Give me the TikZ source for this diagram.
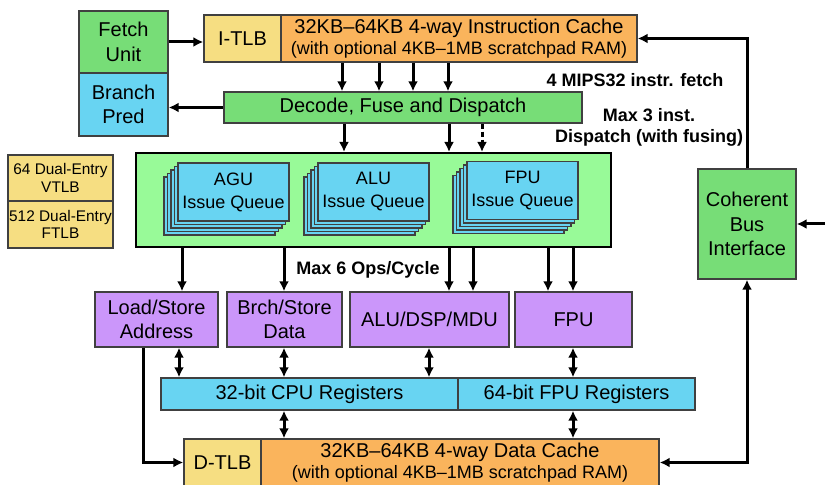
\documentclass[tikz,border=0pt]{standalone}
\usepackage{fontspec}
\setmainfont{Liberation Sans}
\usetikzlibrary{arrows.meta}
\definecolor{myfetch}{RGB}{119,221,119}
\definecolor{mypred}{RGB}{104,212,242}
\definecolor{mytlb}{RGB}{246,222,130}
\definecolor{mycache}{RGB}{250,180,92}
\definecolor{myissue}{RGB}{152,250,152}
\definecolor{myexec}{RGB}{203,150,250}
\definecolor{myedge}{RGB}{64,64,64}

\begin{document}
\begin{tikzpicture}[x=0.5pt,y=-0.5pt,
  blk/.style={draw=myedge,line width=0.7pt,inner sep=0pt,align=center,font=\fontsize{10}{12.2}\selectfont},
  qcard/.style={blk,fill=mypred,minimum width=55.5pt,minimum height=29pt,font=\fontsize{9}{11.5}\selectfont},
  arr/.style={line width=1.5pt,-{Latex[length=5pt,width=5pt]}},
  darr/.style={line width=1.5pt,{Latex[length=5pt,width=5pt]}-{Latex[length=5pt,width=5pt]}},
  lbl/.style={font=\fontsize{9}{10.5}\selectfont\bfseries,align=center}]
  \useasboundingbox (0,0) rectangle (825,485);
  \node[blk,fill=myfetch,minimum width=44.5pt,minimum height=31pt] (fetch) at (123.5,42) {Fetch\\Unit};
  \node[blk,fill=mypred,minimum width=44.5pt,minimum height=31.5pt] (bpred) at (123.5,104.5) {Branch\\Pred};
  \node[blk,fill=mytlb,minimum width=38.5pt,minimum height=23.5pt] (itlb) at (242.5,38.5) {I-TLB};
  \node[blk,fill=mycache,minimum width=178pt,minimum height=23.5pt,font=\fontsize{10}{10.5}\selectfont] (icache) at (459,38.5)
    {32KB–64KB 4-way Instruction Cache\\{\fontsize{9}{10.5}\selectfont(with optional 4KB–1MB scratchpad RAM)}};
  \node[blk,fill=myfetch,minimum width=179pt,minimum height=15.5pt] (decode) at (403,107.5) {Decode, Fuse and Dispatch};
  \node[draw=black,line width=1pt,fill=myissue,minimum width=237.5pt,minimum height=47pt,inner sep=0pt] (issue) at (373.5,200) {};
  \foreach \n/\x/\y/\t in {aguq/233.5/192/AGU,aluq/373.5/192/ALU,fpuq/522.5/190.5/FPU}{
    \foreach \k in {4,3,2,1}
      \node[qcard,xshift={-1.75pt*\k},yshift={-1.75pt*\k}] (\n\k) at (\x,\y) {};
    \node[qcard] (\n) at (\x,\y) {\t\\Issue Queue};
  }
  \node[blk,fill=mytlb,minimum width=52.5pt,minimum height=23pt,font=\fontsize{7.7}{8.6}\selectfont] (vtlb) at (60.5,178) {64 Dual-Entry\\VTLB};
  \node[blk,fill=mytlb,minimum width=52.5pt,minimum height=23.5pt,font=\fontsize{7.7}{8.6}\selectfont] (ftlb) at (60.5,224.5) {512 Dual-Entry\\FTLB};
  \node[blk,fill=myfetch,minimum width=49pt,minimum height=55pt] (cbi) at (747,224) {Coherent\\Bus\\Interface};
  \node[blk,fill=myexec,minimum width=61.5pt,minimum height=27.5pt] (ldst) at (156.5,319.5) {Load/Store\\Address};
  \node[blk,fill=myexec,minimum width=57.5pt,minimum height=27.5pt] (brst) at (284.5,319.5) {Brch/Store\\Data};
  \node[blk,fill=myexec,minimum width=79.5pt,minimum height=27.5pt] (aludsp) at (429.5,319.5) {ALU/DSP/MDU};
  \node[blk,fill=myexec,minimum width=58.5pt,minimum height=27.5pt] (fpx) at (573.5,319.5) {FPU};
  \node[blk,fill=mypred,minimum width=148.5pt,minimum height=16pt] (cpureg) at (309.5,394) {32-bit CPU Registers};
  \node[blk,fill=mypred,minimum width=118.5pt,minimum height=16pt] (fpureg) at (576.5,394) {64-bit FPU Registers};
  \node[blk,fill=mytlb,minimum width=38.5pt,minimum height=23.5pt] (dtlb) at (222.5,462.5) {D-TLB};
  \node[blk,fill=mycache,minimum width=199pt,minimum height=23.5pt,font=\fontsize{10}{10.5}\selectfont] (dcache) at (460,462.5)
    {32KB–64KB 4-way Data Cache\\{\fontsize{9}{10.5}\selectfont(with optional 4KB–1MB scratchpad RAM)}};
  \node[lbl] (fetchlbl) at (635,80) {4 MIPS32 instr. fetch};
  \node[lbl] (displbl) at (649,127.5) {Max 3 inst.\\Dispatch (with fusing)};
  \node[lbl] (opslbl) at (368,270) {Max 6 Ops/Cycle};
  \draw[arr] (fetch.east) -- (fetch.east -| itlb.west);
  \foreach \x in {342,379,413,448}
    \draw[arr] (\x,0 |- icache.south) -- (\x,0 |- decode.north);
  \draw[arr] (decode.west) -- (decode.west -| bpred.east);
  \foreach \x in {344,449}
    \draw[arr] (\x,0 |- decode.south) -- (\x,0 |- issue.north);
  \draw[arr,dash pattern=on 2.5pt off 1.5pt] (482,0 |- decode.south) -- (482,0 |- issue.north);
  \foreach \x/\t in {182/ldst,284/brst,449/aludsp,473/aludsp,548/fpx,573/fpx}
    \draw[arr] (\x,0 |- issue.south) -- (\x,0 |- \t.north);
  \foreach \x/\s/\t in {179/ldst/cpureg,284/brst/cpureg,429/aludsp/cpureg,573/fpx/fpureg,284/cpureg/dcache,573/fpureg/dcache}
    \draw[darr] (\x,0 |- \s.south) -- (\x,0 |- \t.north);
  \draw[arr] (143,0 |- ldst.south) |- (dtlb.west);
  \draw[arr] (cbi.north) |- (icache.east);
  \coordinate (busin) at (825,224);
  \draw[arr] (busin) -- (cbi.east);
  \draw[darr] (cbi.south) |- (dcache.east);
\end{tikzpicture}
\end{document}
